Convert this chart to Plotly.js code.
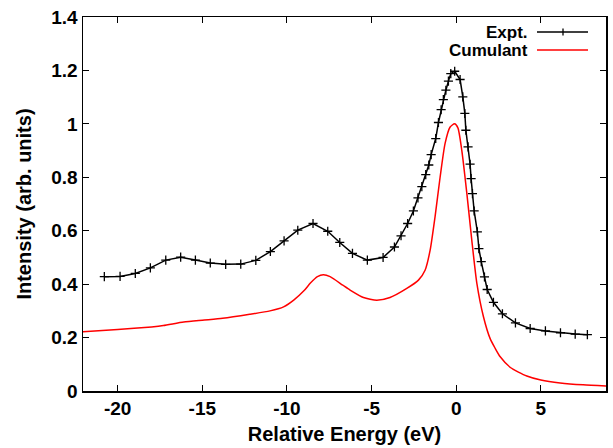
<!DOCTYPE html>
<html>
<head>
<meta charset="utf-8">
<script src="https://cdn.plot.ly/plotly-3.0.1.min.js"></script>
<style>html,body{margin:0;padding:0;background:#fff;}#chart{width:613px;height:448px;}</style>
</head>
<body>
<div id="chart"></div>
<script>
// Experimental spectrum (eV, intensity)
const exptEnergy = [-20.79,-19.86,-18.96,-18.07,-17.16,-16.28,-15.41,-14.53,-13.62,-12.73,-11.84,-10.98,-10.17,-9.36,-8.46,-7.59,-6.88,-6.13,-5.25,-4.32,-3.65,-3.26,-2.87,-2.53,-2.26,-2.03,-1.80,-1.62,-1.48,-1.21,-1.05,-0.89,-0.76,-0.61,-0.46,-0.32,-0.09,0.23,0.39,0.51,0.57,0.70,0.82,0.88,0.96,1.06,1.25,1.34,1.48,1.67,1.83,2.20,2.73,3.50,4.37,5.27,6.16,7.03,7.75];
const exptIntensity = [0.428,0.429,0.440,0.461,0.490,0.501,0.490,0.479,0.474,0.475,0.489,0.522,0.562,0.602,0.627,0.598,0.556,0.515,0.490,0.500,0.539,0.581,0.627,0.674,0.723,0.765,0.810,0.846,0.885,0.945,1.005,1.053,1.091,1.126,1.160,1.188,1.197,1.166,1.101,1.039,0.976,0.914,0.849,0.795,0.739,0.674,0.596,0.533,0.484,0.427,0.380,0.332,0.289,0.255,0.234,0.225,0.218,0.213,0.211];
// Cumulant calculation
const cumEnergy = [-22.05,-20,-18,-17.3,-16.1,-15,-13.8,-12.2,-11,-10.2,-9.6,-9,-8.6,-8.2,-7.85,-7.45,-6.7,-6.27,-5.48,-4.69,-3.91,-2.92,-2.23,-1.84,-1.54,-1.25,-0.95,-0.66,-0.36,-0.1,0.1,0.33,0.63,0.92,1.22,1.61,2.0,2.3,2.6,3.2,4.17,5,6.14,7.5,8.85];
const cumIntensity = [0.222,0.230,0.240,0.245,0.258,0.265,0.272,0.287,0.300,0.315,0.340,0.375,0.405,0.428,0.435,0.428,0.396,0.378,0.350,0.340,0.350,0.384,0.415,0.452,0.527,0.652,0.801,0.926,0.988,1.0,0.985,0.901,0.739,0.565,0.403,0.278,0.197,0.160,0.128,0.088,0.056,0.041,0.030,0.023,0.019];
const seriesNames = ["Expt.","Cumulant"];
const xTicks = [-20,-15,-10,-5,0,5];
const yTicks = [0,0.2,0.4,0.6,0.8,1,1.2,1.4];

const FONT = "Liberation Sans, Arial, Helvetica, sans-serif";
const traces = [
  {x: exptEnergy, y: exptIntensity, name: seriesNames[0], type: "scatter", mode: "lines+markers",
   line: {color: "#000", width: 1.5},
   marker: {symbol: "cross-thin", size: 6.5, line: {color: "#000", width: 1.3}, color: "#000"},
   showlegend: false},
  {x: cumEnergy, y: cumIntensity, name: seriesNames[1], type: "scatter", mode: "lines",
   line: {color: "#ff0000", width: 1.5, shape: "spline", smoothing: 0.6},
   showlegend: false}
];

const axisCommon = {
  showline: true, linecolor: "#000", linewidth: 1.5, mirror: "allticks",
  ticks: "inside", ticklen: 6, tickwidth: 1, tickcolor: "#000",
  showgrid: false, zeroline: false,
  tickfont: {family: FONT, size: 19, color: "#000", weight: "bold"}
};

// legend drawn gnuplot-style: right-justified text, sample to the right
const lx0 = (537-83)/523, lx1 = (588-83)/523, lxm = (563-83)/523;
const ly1 = (391-32)/374, ly2 = (391-50)/374;
const layout = {
  width: 613, height: 448,
  margin: {l: 83, r: 7, t: 17, b: 57},
  paper_bgcolor: "#fff", plot_bgcolor: "#fff",
  xaxis: Object.assign({}, axisCommon, {
    range: [-22.05, 8.85], tickvals: xTicks, ticktext: xTicks.map(String),
    title: {text: "Relative Energy (eV)", font: {family: FONT, size: 20, color: "#000", weight: "bold"}, standoff: 8}
  }),
  yaxis: Object.assign({}, axisCommon, {
    range: [0, 1.4], tickvals: yTicks, ticktext: yTicks.map(String),
    title: {text: "Intensity (arb. units)", font: {family: FONT, size: 20, color: "#000", weight: "bold"}, standoff: 14}
  }),
  annotations: [
    {xref: "paper", yref: "paper", x: (529-83)/523, y: ly1, xanchor: "right", yanchor: "middle", showarrow: false, borderpad: 0,
     text: seriesNames[0], font: {family: FONT, size: 17, color: "#000", weight: "bold"}},
    {xref: "paper", yref: "paper", x: (529-83)/523, y: ly2, xanchor: "right", yanchor: "middle", showarrow: false, borderpad: 0,
     text: seriesNames[1], font: {family: FONT, size: 17, color: "#000", weight: "bold"}}
  ],
  shapes: [
    {type: "line", xref: "paper", yref: "paper", x0: lx0, x1: lx1, y0: ly1, y1: ly1, line: {color: "#000", width: 1.5}},
    {type: "line", xref: "paper", yref: "paper", x0: lxm, x1: lxm, y0: ly1 - 3.5/374, y1: ly1 + 3.5/374, line: {color: "#000", width: 1.3}},
    {type: "line", xref: "paper", yref: "paper", x0: lx0, x1: lx1, y0: ly2, y1: ly2, line: {color: "#ff0000", width: 1.5}}
  ]
};

Plotly.newPlot("chart", traces, layout, {staticPlot: true, displayModeBar: false});
</script>
</body>
</html>
